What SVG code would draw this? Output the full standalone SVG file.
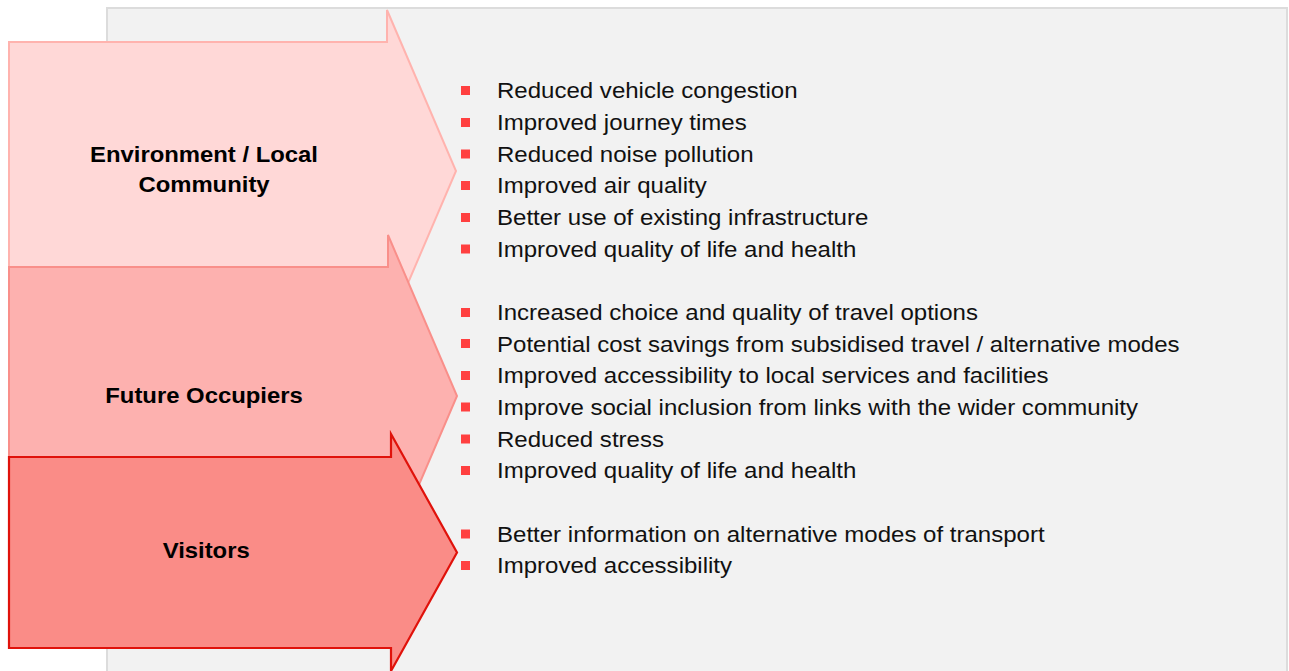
<svg xmlns="http://www.w3.org/2000/svg" width="1289" height="671" viewBox="0 0 1289 671">
<style>
.lbl{font-family:"Liberation Sans",Arial,sans-serif;font-size:22px;font-weight:bold;fill:#000;text-anchor:middle}
.item{font-family:"Liberation Sans",Arial,sans-serif;font-size:22px;fill:#111}
.bul{fill:#FF4040}
</style>
<rect id="panel" x="107" y="8" width="1180" height="680" fill="#F2F2F2" stroke="#DCDCDC" stroke-width="2"/>
<g id="arrow-environment">
<polygon points="9,42 387,42 387,10 456,171 387,332 387,300 9,300" fill="#FFD8D7" stroke="#FFB3AE" stroke-width="2"/>
</g>
<g id="arrow-occupiers">
<polygon points="9,267 388,267 388,235 457,396 388,557 388,525 9,525" fill="#FDB1AF" stroke="#F98F8A" stroke-width="2"/>
</g>
<g id="arrow-visitors">
<polygon points="9,457 391,457 391,434 457,552.5 391,671 391,648 9,648" fill="#FA8C87" stroke="#E0120B" stroke-width="2.2"/>
</g>
<g id="labels">
<g transform="translate(204 0) scale(1.085 1)">
<text class="lbl" x="0" y="162">Environment / Local</text>
<text class="lbl" x="0" y="192">Community</text>
<text class="lbl" x="0" y="403">Future Occupiers</text>
<text class="lbl" x="2" y="558">Visitors</text>
</g>
</g>
<g id="connectors"></g>
<g id="bullets">
<rect class="bul" x="461" y="86" width="9" height="9"/>
<rect class="bul" x="461" y="118" width="9" height="9"/>
<rect class="bul" x="461" y="149.5" width="9" height="9"/>
<rect class="bul" x="461" y="181" width="9" height="9"/>
<rect class="bul" x="461" y="213" width="9" height="9"/>
<rect class="bul" x="461" y="244.5" width="9" height="9"/>
<rect class="bul" x="461" y="308" width="9" height="9"/>
<rect class="bul" x="461" y="339" width="9" height="9"/>
<rect class="bul" x="461" y="371" width="9" height="9"/>
<rect class="bul" x="461" y="402.5" width="9" height="9"/>
<rect class="bul" x="461" y="434.5" width="9" height="9"/>
<rect class="bul" x="461" y="466" width="9" height="9"/>
<rect class="bul" x="461" y="529.5" width="9" height="9"/>
<rect class="bul" x="461" y="561" width="9" height="9"/>
</g>
<g id="items" transform="translate(497 0) scale(1.093 1)">
<text class="item" x="0" y="98.5">Reduced vehicle congestion</text>
<text class="item" x="0" y="130.2">Improved journey times</text>
<text class="item" x="0" y="161.8">Reduced noise pollution</text>
<text class="item" x="0" y="193.5">Improved air quality</text>
<text class="item" x="0" y="225.1">Better use of existing infrastructure</text>
<text class="item" x="0" y="256.8">Improved quality of life and health</text>
<text class="item" x="0" y="320.1">Increased choice and quality of travel options</text>
<text class="item" x="0" y="351.7">Potential cost savings from subsidised travel / alternative modes</text>
<text class="item" x="0" y="383.4">Improved accessibility to local services and facilities</text>
<text class="item" x="0" y="415">Improve social inclusion from links with the wider community</text>
<text class="item" x="0" y="446.7">Reduced stress</text>
<text class="item" x="0" y="478.3">Improved quality of life and health</text>
<text class="item" x="0" y="541.6">Better information on alternative modes of transport</text>
<text class="item" x="0" y="573.3">Improved accessibility</text>
</g>
</svg>
